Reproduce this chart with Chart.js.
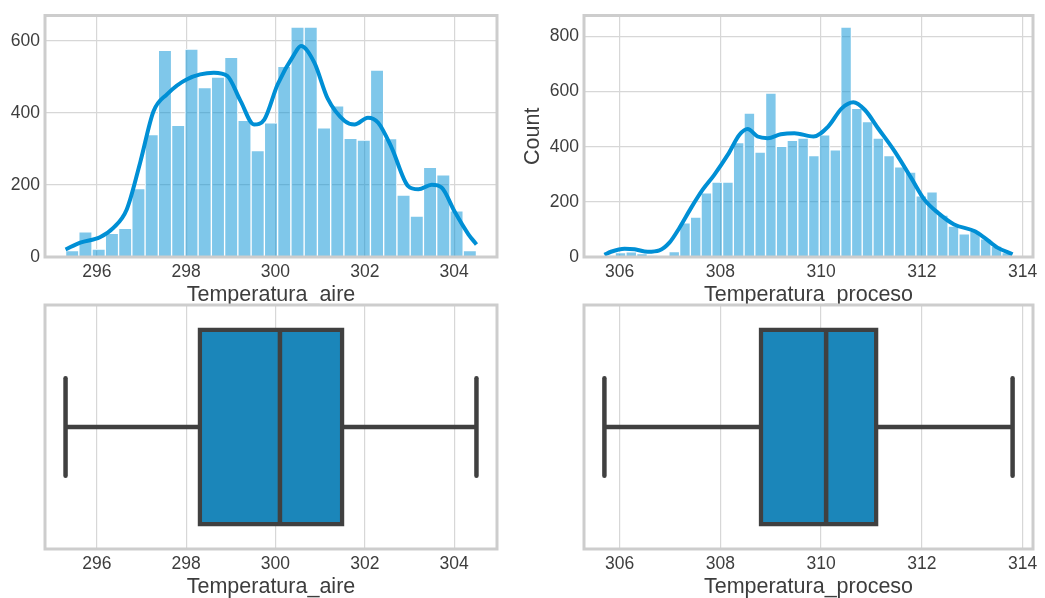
<!DOCTYPE html>
<html>
<head>
<meta charset="utf-8">
<script src="https://cdn.jsdelivr.net/npm/chart.js@4.4.1/dist/chart.umd.min.js"></script>
<style>
  html, body { margin: 0; padding: 0; background: #fff; }
  #wrap { position: relative; width: 1045px; height: 598px; overflow: hidden; }
  canvas { position: absolute; }
</style>
</head>
<body>
<div id="wrap">
  <canvas id="histAire" width="520" height="312" style="left:0;top:0"></canvas>
  <canvas id="histProceso" width="525" height="312" style="left:520px;top:0"></canvas>
  <canvas id="boxAire" width="520" height="312" style="left:0;top:290px"></canvas>
  <canvas id="boxProceso" width="525" height="312" style="left:520px;top:290px"></canvas>
</div>
<script>
// Temperatura_aire: 31 bins between min and max
const aireRange = [295.3, 304.5];
const aireCounts = [18, 70, 22, 66, 80, 190, 340, 574, 366, 578, 471, 500, 555, 380, 296, 373,
  530, 639, 639, 359, 420, 330, 325, 519, 329, 172, 114, 249, 228, 128, 18];
const aireKdeX = [295.3, 295.63, 296.07, 296.37, 296.67, 296.97, 297.27, 297.57, 298.02, 298.62,
  298.92, 299.22, 299.52, 299.75, 300.05, 300.42, 300.57, 300.87, 301.17, 301.55, 301.77, 302.07,
  302.3, 302.6, 302.97, 303.2, 303.5, 303.72, 304.02, 304.32, 304.5];
const aireKdeY = [21, 40, 55, 81, 132, 262, 405, 452, 494, 512, 503, 433, 368, 382, 480, 563,
  586, 540, 440, 378, 368, 387, 373, 304, 197, 188, 201, 193, 124, 63, 35];
const aireBox = [295.3, 298.3, 300.1, 301.5, 304.5]; // min, q1, median, q3, max
const aireTicks = [296, 298, 300, 302, 304];
const aireCountTicks = [0, 200, 400, 600];

// Temperatura_proceso: 38 bins between min and max
const procesoRange = [305.7, 313.8];
const procesoCounts = [4, 16, 19, 12, 4, 3, 20, 124, 145, 233, 272, 272, 415, 522, 380, 594, 401,
  423, 431, 368, 443, 389, 834, 539, 491, 431, 368, 327, 308, 222, 236, 152, 112, 84, 94, 66, 40, 16];
const procesoKdeX = [305.7, 305.83, 306.1, 306.3, 306.56, 306.79, 306.99, 307.19, 307.42, 307.65,
  307.88, 308.15, 308.38, 308.54, 308.74, 308.94, 309.2, 309.47, 309.85, 310.14, 310.41, 310.64,
  310.87, 311.13, 311.46, 311.79, 312.05, 312.32, 312.64, 313.04, 313.24, 313.5, 313.8];
const procesoKdeY = [8, 19, 30, 28, 19, 24, 52, 106, 178, 244, 298, 371, 443, 464, 437, 431, 445,
  449, 437, 473, 539, 561, 533, 467, 383, 286, 208, 160, 118, 94, 70, 34, 10];
const procesoBox = [305.7, 308.8, 310.1, 311.1, 313.8];
const procesoTicks = [306, 308, 310, 312, 314];
const procesoCountTicks = [0, 200, 400, 600, 800];

const FONT = '"Liberation Sans", Arial, sans-serif';
const TEXT = '#3d3d3d';
const GRID = '#d7d7d7';
const FRAME = '#cdcdcd';
const BLUE = '#008fd5';
const BAR_FILL = 'rgba(0, 143, 213, 0.5)';
const BOX_FILL = '#1b86ba';
const BOX_LINE = '#404040';

// light grey box round the plot area, drawn over the data like matplotlib spines
const framePlugin = {
  id: 'frame',
  afterDatasetsDraw(chart) {
    const { ctx, chartArea: a } = chart;
    ctx.save();
    ctx.strokeStyle = FRAME;
    ctx.lineWidth = 3;
    ctx.strokeRect(a.left, a.top, a.right - a.left, a.bottom - a.top);
    ctx.restore();
  }
};

// 5% margin on both sides of the data range
function padded(range) {
  const pad = (range[1] - range[0]) * 0.05;
  return { min: range[0] - pad, max: range[1] + pad };
}

function fixedTicks(values) {
  return scale => { scale.ticks = values.map(value => ({ value })); };
}

function xAxis(range, ticks, title, height, titlePad) {
  const { min, max } = padded(range);
  return {
    type: 'linear', min, max, offset: false,
    afterBuildTicks: fixedTicks(ticks),
    afterFit: s => { s.height = height; },
    grid: { color: GRID, lineWidth: 1.2, drawTicks: false, offset: false },
    border: { display: false },
    ticks: { padding: 5, color: TEXT, font: { family: FONT, size: 17.5 }, maxRotation: 0, autoSkip: false },
    title: { display: true, text: title, color: TEXT, font: { family: FONT, size: 21.5 }, padding: { top: 0, bottom: titlePad } }
  };
}

function histogram(id, counts, range, xTicks, yTicks, kdeX, kdeY, title, o) {
  const step = (range[1] - range[0]) / counts.length;
  const bars = counts.map((c, i) => ({ x: range[0] + (i + 0.5) * step, y: c }));
  const kde = kdeX.map((x, i) => ({ x, y: kdeY[i] }));

  new Chart(document.getElementById(id), {
    type: 'bar',
    data: {
      datasets: [
        { type: 'line', data: kde, borderColor: BLUE, borderWidth: 4, pointRadius: 0,
          cubicInterpolationMode: 'monotone', order: 0 },
        { type: 'bar', data: bars, backgroundColor: BAR_FILL, borderColor: '#ffffff', borderWidth: 1,
          barPercentage: 1, categoryPercentage: 1, order: 1 }
      ]
    },
    options: {
      responsive: false, animation: false, devicePixelRatio: 1,
      layout: { padding: { top: o.top, right: o.right, left: 0, bottom: 0 } },
      plugins: { legend: { display: false }, tooltip: { enabled: false } },
      scales: {
        x: xAxis(range, xTicks, title, o.xHeight, o.titlePad),
        y: {
          type: 'linear', min: 0, max: Math.max(...counts) * 1.05,
          afterBuildTicks: fixedTicks(yTicks),
          afterFit: s => { s.width = o.yWidth; },
          grid: { color: GRID, lineWidth: 1.2, drawTicks: false },
          border: { display: false },
          ticks: { padding: 5, color: TEXT, font: { family: FONT, size: 17.5 } },
          title: { display: !!o.yTitle, text: o.yTitle, color: TEXT, font: { family: FONT, size: 21.5 }, padding: 0 }
        }
      }
    },
    plugins: [framePlugin]
  });
}

function boxplot(id, stats, range, xTicks, title, o) {
  const [lo, q1, med, q3, hi] = stats;
  const seg = (pts, order, cap) => ({
    type: 'line', indexAxis: 'x', yAxisID: 'yl', data: pts, order,
    borderColor: BOX_LINE, borderWidth: 4.5, borderCapStyle: cap, pointRadius: 0
  });

  new Chart(document.getElementById(id), {
    type: 'bar',
    data: {
      labels: [title],
      datasets: [
        seg([{ x: med, y: -0.4 }, { x: med, y: 0.4 }], 0, 'butt'),
        seg([{ x: lo, y: -0.2 }, { x: lo, y: 0.2 }], 0, 'round'),
        seg([{ x: hi, y: -0.2 }, { x: hi, y: 0.2 }], 0, 'round'),
        { type: 'bar', data: [[q1, q3]], backgroundColor: BOX_FILL, borderColor: BOX_LINE,
          borderWidth: 4.5, borderSkipped: false, inflateAmount: 2, grouped: false,
          barPercentage: 0.8, categoryPercentage: 1, order: 1 },
        seg([{ x: lo, y: 0 }, { x: hi, y: 0 }], 2, 'butt')
      ]
    },
    options: {
      indexAxis: 'y',
      responsive: false, animation: false, devicePixelRatio: 1,
      layout: { padding: { top: o.top, right: o.right, left: 0, bottom: 0 } },
      plugins: { legend: { display: false }, tooltip: { enabled: false } },
      scales: {
        x: xAxis(range, xTicks, title, o.xHeight, o.titlePad),
        y: {
          type: 'category', offset: true,
          afterFit: s => { s.width = o.yWidth; },
          grid: { display: false }, border: { display: false }, ticks: { display: false }
        },
        // hidden numeric twin of the category axis for whiskers, caps and median
        yl: { type: 'linear', axis: 'y', min: -0.5, max: 0.5, offset: false, display: false }
      }
    },
    plugins: [framePlugin]
  });
}

histogram('histAire', aireCounts, aireRange, aireTicks, aireCountTicks, aireKdeX, aireKdeY,
  'Temperatura_aire', { top: 13, right: 23, yWidth: 45, xHeight: 55, titlePad: 4 });
histogram('histProceso', procesoCounts, procesoRange, procesoTicks, procesoCountTicks, procesoKdeX, procesoKdeY,
  'Temperatura_proceso', { top: 13, right: 12, yWidth: 64, xHeight: 55, titlePad: 4, yTitle: 'Count' });
boxplot('boxAire', aireBox, aireRange, aireTicks, 'Temperatura_aire',
  { top: 15, right: 23, yWidth: 45, xHeight: 53, titlePad: 2.4 });
boxplot('boxProceso', procesoBox, procesoRange, procesoTicks, 'Temperatura_proceso',
  { top: 15, right: 12, yWidth: 64, xHeight: 53, titlePad: 2.4 });
</script>
</body>
</html>
